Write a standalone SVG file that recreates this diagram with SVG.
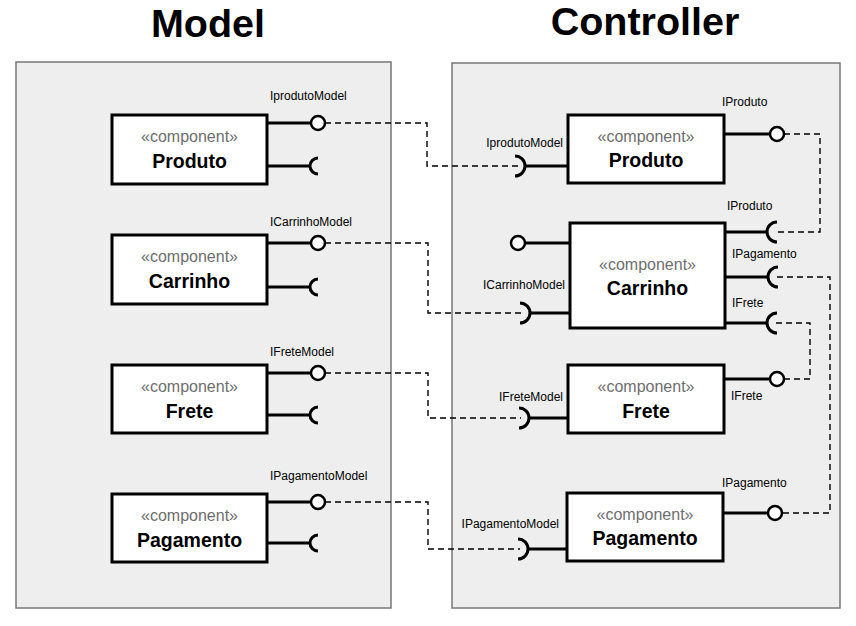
<svg xmlns="http://www.w3.org/2000/svg" width="856" height="626" viewBox="0 0 856 626">
<style>
.title{font-family:"Liberation Sans",Arial,sans-serif;font-weight:bold;font-size:39.5px;fill:#000;text-anchor:middle}
.cont{fill:#eeeeee;stroke:#777;stroke-width:1.5}
.box{fill:#fff;stroke:#000;stroke-width:3}
.st{font-family:"Liberation Sans",Arial,sans-serif;font-size:16px;fill:#6e6e6e;text-anchor:middle}
.nm{font-family:"Liberation Sans",Arial,sans-serif;font-size:19.5px;font-weight:bold;fill:#000;text-anchor:middle}
.lb{font-family:"Liberation Sans",Arial,sans-serif;font-size:12px;fill:#000}
.ln{stroke:#000;stroke-width:3;fill:none}
.lol{fill:#fff;stroke:#000;stroke-width:2.5}
.sock{fill:none;stroke:#000;stroke-width:3}
.dash{fill:none;stroke:#000;stroke-width:1.4;stroke-dasharray:6 4}
</style>
<rect width="856" height="626" fill="#fff"/>
<text class="title" x="208" y="37">Model</text>
<text class="title" x="645" y="35">Controller</text>
<rect class="cont" x="16" y="62" width="375" height="546"/>
<rect class="cont" x="452" y="63" width="388" height="545"/>

<g id="model-produto">
<rect class="box" x="112" y="115" width="155" height="69"/>
<text class="st" x="189.5" y="142">«component»</text>
<text class="nm" x="189.5" y="168">Produto</text>
<line class="ln" x1="267" y1="123" x2="311" y2="123"/>
<circle class="lol" cx="318" cy="123" r="7"/>
<line class="ln" x1="267" y1="166" x2="310" y2="166"/>
<path class="sock" d="M318,158 A8,8 0 0 0 318,174"/>
<text class="lb" x="270" y="100">IprodutoModel</text>
</g>
<g id="model-carrinho">
<rect class="box" x="112" y="235" width="155" height="69"/>
<text class="st" x="189.5" y="262">«component»</text>
<text class="nm" x="189.5" y="288">Carrinho</text>
<line class="ln" x1="267" y1="243" x2="311" y2="243"/>
<circle class="lol" cx="318" cy="243" r="7"/>
<line class="ln" x1="267" y1="287" x2="310" y2="287"/>
<path class="sock" d="M318,279 A8,8 0 0 0 318,295"/>
<text class="lb" x="270" y="226">ICarrinhoModel</text>
</g>
<g id="model-frete">
<rect class="box" x="112" y="365" width="155" height="68"/>
<text class="st" x="189.5" y="392">«component»</text>
<text class="nm" x="189.5" y="418">Frete</text>
<line class="ln" x1="267" y1="373" x2="311" y2="373"/>
<circle class="lol" cx="318" cy="373" r="7"/>
<line class="ln" x1="267" y1="415" x2="310" y2="415"/>
<path class="sock" d="M318,407 A8,8 0 0 0 318,423"/>
<text class="lb" x="270" y="356">IFreteModel</text>
</g>
<g id="model-pagamento">
<rect class="box" x="112" y="494" width="155" height="68"/>
<text class="st" x="189.5" y="521">«component»</text>
<text class="nm" x="189.5" y="547">Pagamento</text>
<line class="ln" x1="267" y1="502" x2="311" y2="502"/>
<circle class="lol" cx="318" cy="502" r="7"/>
<line class="ln" x1="267" y1="543" x2="310" y2="543"/>
<path class="sock" d="M318,535 A8,8 0 0 0 318,551"/>
<text class="lb" x="270" y="480">IPagamentoModel</text>
</g>

<g id="ctrl-produto">
<rect class="box" x="568" y="115" width="156" height="68"/>
<text class="st" x="646" y="142">«component»</text>
<text class="nm" x="646" y="167">Produto</text>
<line class="ln" x1="724" y1="134" x2="770" y2="134"/>
<circle class="lol" cx="777" cy="134" r="7"/>
<text class="lb" x="722" y="106">IProduto</text>
<line class="ln" x1="525" y1="166" x2="568" y2="166"/>
<path class="sock" d="M515,156 A10,10 0 0 1 515,176"/>
<text class="lb" x="563" y="147" text-anchor="end">IprodutoModel</text>
</g>
<g id="ctrl-carrinho">
<rect class="box" x="570" y="223" width="155" height="105"/>
<text class="st" x="647.5" y="270">«component»</text>
<text class="nm" x="647.5" y="295">Carrinho</text>
<line class="ln" x1="525" y1="243" x2="570" y2="243"/>
<circle class="lol" cx="518" cy="243" r="7"/>
<line class="ln" x1="530" y1="313" x2="570" y2="313"/>
<path class="sock" d="M520,303 A10,10 0 0 1 520,323"/>
<text class="lb" x="565" y="289" text-anchor="end">ICarrinhoModel</text>
<line class="ln" x1="725" y1="232" x2="767" y2="232"/>
<path class="sock" d="M777,222 A10,10 0 0 0 777,242"/>
<text class="lb" x="727" y="210">IProduto</text>
<line class="ln" x1="725" y1="277" x2="768" y2="277"/>
<path class="sock" d="M778,267 A10,10 0 0 0 778,287"/>
<text class="lb" x="732" y="258">IPagamento</text>
<line class="ln" x1="725" y1="323" x2="767" y2="323"/>
<path class="sock" d="M777,313 A10,10 0 0 0 777,333"/>
<text class="lb" x="732" y="307">IFrete</text>
</g>
<g id="ctrl-frete">
<rect class="box" x="568" y="365" width="156" height="68"/>
<text class="st" x="646" y="392">«component»</text>
<text class="nm" x="646" y="418">Frete</text>
<line class="ln" x1="724" y1="379" x2="770" y2="379"/>
<circle class="lol" cx="777" cy="379" r="7"/>
<text class="lb" x="731" y="400">IFrete</text>
<line class="ln" x1="529" y1="418" x2="568" y2="418"/>
<path class="sock" d="M519,408 A10,10 0 0 1 519,428"/>
<text class="lb" x="563" y="401" text-anchor="end">IFreteModel</text>
</g>
<g id="ctrl-pagamento">
<rect class="box" x="567" y="493" width="156" height="68"/>
<text class="st" x="645" y="520">«component»</text>
<text class="nm" x="645" y="545">Pagamento</text>
<line class="ln" x1="723" y1="513" x2="768" y2="513"/>
<circle class="lol" cx="775" cy="513" r="7"/>
<text class="lb" x="722" y="487">IPagamento</text>
<line class="ln" x1="528" y1="549" x2="567" y2="549"/>
<path class="sock" d="M518,539 A10,10 0 0 1 518,559"/>
<text class="lb" x="559" y="528" text-anchor="end">IPagamentoModel</text>
</g>

<g id="connectors">
<polyline class="dash" points="325,123 427,123 427,166 518,166"/>
<polyline class="dash" points="325,243 428,243 428,313 522,313"/>
<polyline class="dash" points="325,373 428,373 428,418 521,418"/>
<polyline class="dash" points="325,502 428,502 428,549 520,549"/>
<polyline class="dash" points="784,134 820,134 820,232 776,232"/>
<polyline class="dash" points="777,277 830,277 830,513 782,513"/>
<polyline class="dash" points="776,323 810,323 810,379 784,379"/>
</g>
</svg>
